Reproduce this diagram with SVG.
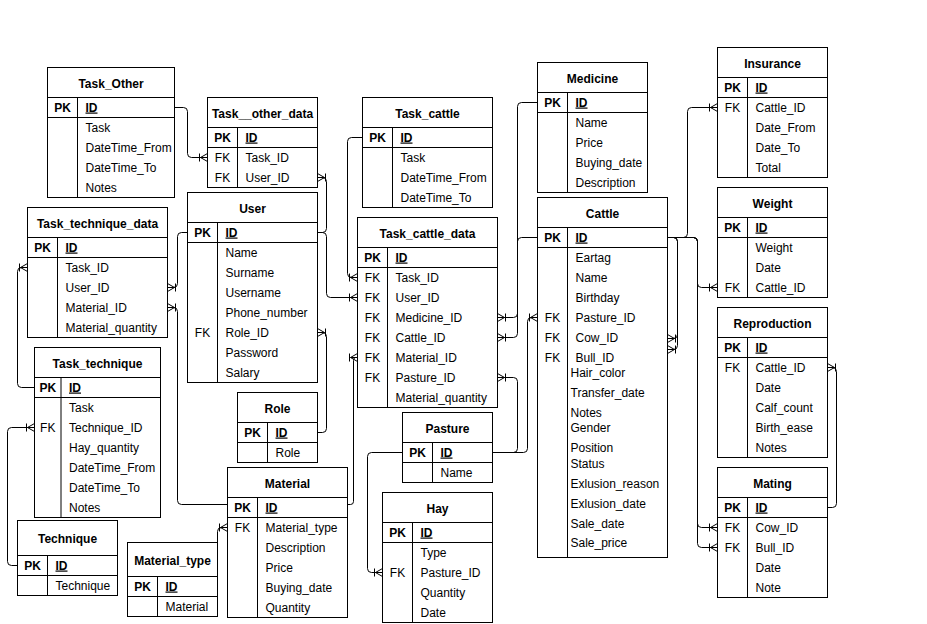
<svg xmlns="http://www.w3.org/2000/svg" width="927" height="624" viewBox="0 0 927 624">
<style>
.b{fill:#fff;stroke:#000;stroke-width:1}
.l{stroke:#000;stroke-width:1;fill:none}
text{font-family:"Liberation Sans",Arial,Helvetica,sans-serif;font-size:12px;fill:#000}
.t{font-weight:bold;text-anchor:middle}
.k{text-anchor:middle}
.kb{text-anchor:middle;font-weight:bold}
.id{font-weight:bold;text-decoration:underline}
.e{fill:none;stroke:#000;stroke-width:1;marker-end:url(#many)}
</style>
<defs>
<marker id="many" markerUnits="userSpaceOnUse" markerWidth="12" markerHeight="12" refX="10" refY="6" orient="auto" overflow="visible">
<path d="M3,6 L10,2 M3,6 L10,6 M3,6 L10,10 M2,2 L2,10" fill="none" stroke="#000" stroke-width="1"/>
</marker>
</defs>
<rect width="927" height="624" fill="#fff"/>
<g transform="translate(0.5,0.5)">

<g id="Task_Other">
<rect class="b" x="47" y="67" width="127" height="130"/>
<path class="l" d="M47,97H174M47,117H174M77,97V197"/>
<text class="t" x="110.5" y="87">Task_Other</text>
<text class="kb" x="62" y="111">PK</text><text class="id" x="85" y="111">ID</text>
<text x="85" y="131">Task</text>
<text x="85" y="151">DateTime_From</text>
<text x="85" y="171">DateTime_To</text>
<text x="85" y="191">Notes</text>
</g>

<g id="Task__other_data">
<rect class="b" x="207" y="97" width="110" height="90"/>
<path class="l" d="M207,127H317M207,147H317M237,127V187"/>
<text class="t" x="262" y="117">Task__other_data</text>
<text class="kb" x="222" y="141">PK</text><text class="id" x="245" y="141">ID</text>
<text class="k" x="222" y="161">FK</text><text x="245" y="161">Task_ID</text>
<text class="k" x="222" y="181">FK</text><text x="245" y="181">User_ID</text>
</g>

<g id="User">
<rect class="b" x="187" y="192" width="130" height="190"/>
<path class="l" d="M187,222H317M187,242H317M217,222V382"/>
<text class="t" x="252" y="212">User</text>
<text class="kb" x="202" y="236">PK</text><text class="id" x="225" y="236">ID</text>
<text x="225" y="256">Name</text>
<text x="225" y="276">Surname</text>
<text x="225" y="296">Username</text>
<text x="225" y="316">Phone_number</text>
<text class="k" x="202" y="336">FK</text><text x="225" y="336">Role_ID</text>
<text x="225" y="356">Password</text>
<text x="225" y="376">Salary</text>
</g>

<g id="Task_technique_data">
<rect class="b" x="27" y="207" width="140" height="130"/>
<path class="l" d="M27,237H167M27,257H167M57,237V337"/>
<text class="t" x="97" y="227">Task_technique_data</text>
<text class="kb" x="42" y="251">PK</text><text class="id" x="65" y="251">ID</text>
<text x="65" y="271">Task_ID</text>
<text x="65" y="291">User_ID</text>
<text x="65" y="311">Material_ID</text>
<text x="65" y="331">Material_quantity</text>
</g>

<g id="Task_technique">
<rect class="b" x="34" y="347" width="126" height="170"/>
<path class="l" d="M34,377H160M34,397H160M60.5,377V517"/>
<text class="t" x="97" y="367">Task_technique</text>
<text class="kb" x="47.25" y="391">PK</text><text class="id" x="68.5" y="391">ID</text>
<text x="68.5" y="411">Task</text>
<text class="k" x="47.25" y="431">FK</text><text x="68.5" y="431">Technique_ID</text>
<text x="68.5" y="451">Hay_quantity</text>
<text x="68.5" y="471">DateTime_From</text>
<text x="68.5" y="491">DateTime_To</text>
<text x="68.5" y="511">Notes</text>
</g>

<g id="Technique">
<rect class="b" x="17" y="520" width="100" height="75"/>
<path class="l" d="M17,555H117M17,575H117M47,555V595"/>
<text class="t" x="67" y="542.5">Technique</text>
<text class="kb" x="32" y="569">PK</text><text class="id" x="55" y="569">ID</text>
<text x="55" y="589">Technique</text>
</g>

<g id="Material_type">
<rect class="b" x="127" y="542" width="90" height="74"/>
<path class="l" d="M127,576H217M127,596H217M157,576V616"/>
<text class="t" x="172" y="564">Material_type</text>
<text class="kb" x="142" y="590">PK</text><text class="id" x="165" y="590">ID</text>
<text x="165" y="610">Material</text>
</g>

<g id="Material">
<rect class="b" x="227" y="467" width="120" height="150"/>
<path class="l" d="M227,497H347M227,517H347M257,497V617"/>
<text class="t" x="287" y="487">Material</text>
<text class="kb" x="242" y="511">PK</text><text class="id" x="265" y="511">ID</text>
<text class="k" x="242" y="531">FK</text><text x="265" y="531">Material_type</text>
<text x="265" y="551">Description</text>
<text x="265" y="571">Price</text>
<text x="265" y="591">Buying_date</text>
<text x="265" y="611">Quantity</text>
</g>

<g id="Role">
<rect class="b" x="237" y="392" width="80" height="70"/>
<path class="l" d="M237,422H317M237,442H317M267,422V462"/>
<text class="t" x="277" y="412">Role</text>
<text class="kb" x="252" y="436">PK</text><text class="id" x="275" y="436">ID</text>
<text x="275" y="456">Role</text>
</g>

<g id="Task_cattle">
<rect class="b" x="362" y="97" width="130" height="110"/>
<path class="l" d="M362,127H492M362,147H492M392,127V207"/>
<text class="t" x="427" y="117">Task_cattle</text>
<text class="kb" x="377" y="141">PK</text><text class="id" x="400" y="141">ID</text>
<text x="400" y="161">Task</text>
<text x="400" y="181">DateTime_From</text>
<text x="400" y="201">DateTime_To</text>
</g>

<g id="Task_cattle_data">
<rect class="b" x="357" y="217" width="140" height="190"/>
<path class="l" d="M357,247H497M357,267H497M387,247V407"/>
<text class="t" x="427" y="237">Task_cattle_data</text>
<text class="kb" x="372" y="261">PK</text><text class="id" x="395" y="261">ID</text>
<text class="k" x="372" y="281">FK</text><text x="395" y="281">Task_ID</text>
<text class="k" x="372" y="301">FK</text><text x="395" y="301">User_ID</text>
<text class="k" x="372" y="321">FK</text><text x="395" y="321">Medicine_ID</text>
<text class="k" x="372" y="341">FK</text><text x="395" y="341">Cattle_ID</text>
<text class="k" x="372" y="361">FK</text><text x="395" y="361">Material_ID</text>
<text class="k" x="372" y="381">FK</text><text x="395" y="381">Pasture_ID</text>
<text x="395" y="401">Material_quantity</text>
</g>

<g id="Pasture">
<rect class="b" x="402" y="412" width="90" height="70"/>
<path class="l" d="M402,442H492M402,462H492M432,442V482"/>
<text class="t" x="447" y="432">Pasture</text>
<text class="kb" x="417" y="456">PK</text><text class="id" x="440" y="456">ID</text>
<text x="440" y="476">Name</text>
</g>

<g id="Hay">
<rect class="b" x="382" y="492" width="110" height="130"/>
<path class="l" d="M382,522H492M382,542H492M412,522V622"/>
<text class="t" x="437" y="512">Hay</text>
<text class="kb" x="397" y="536">PK</text><text class="id" x="420" y="536">ID</text>
<text x="420" y="556">Type</text>
<text class="k" x="397" y="576">FK</text><text x="420" y="576">Pasture_ID</text>
<text x="420" y="596">Quantity</text>
<text x="420" y="616">Date</text>
</g>

<g id="Medicine">
<rect class="b" x="537" y="62" width="110" height="130"/>
<path class="l" d="M537,92H647M537,112H647M567,92V192"/>
<text class="t" x="592" y="82">Medicine</text>
<text class="kb" x="552" y="106">PK</text><text class="id" x="575" y="106">ID</text>
<text x="575" y="126">Name</text>
<text x="575" y="146">Price</text>
<text x="575" y="166">Buying_date</text>
<text x="575" y="186">Description</text>
</g>

<g id="Cattle">
<rect class="b" x="537" y="197" width="130" height="360"/>
<path class="l" d="M537,227H667M537,247H667M567,227V557"/>
<text class="t" x="602" y="217">Cattle</text>
<text class="kb" x="552" y="241">PK</text><text class="id" x="575" y="241">ID</text>
<text x="575" y="261">Eartag</text>
<text x="575" y="281">Name</text>
<text x="575" y="301">Birthday</text>
<text class="k" x="552" y="321">FK</text><text x="575" y="321">Pasture_ID</text>
<text class="k" x="552" y="341">FK</text><text x="575" y="341">Cow_ID</text>
<text class="k" x="552" y="361">FK</text><text x="575" y="361">Bull_ID</text>
<text x="570" y="376">Hair_color</text>
<text x="570" y="396">Transfer_date</text>
<text x="570" y="416">Notes</text>
<text x="570" y="431">Gender</text>
<text x="570" y="451">Position</text>
<text x="570" y="467">Status</text>
<text x="570" y="487">Exlusion_reason</text>
<text x="570" y="507">Exlusion_date</text>
<text x="570" y="527">Sale_date</text>
<text x="570" y="546">Sale_price</text>
</g>

<g id="Insurance">
<rect class="b" x="717" y="47" width="110" height="130"/>
<path class="l" d="M717,77H827M717,97H827M747,77V177"/>
<text class="t" x="772" y="67">Insurance</text>
<text class="kb" x="732" y="91">PK</text><text class="id" x="755" y="91">ID</text>
<text class="k" x="732" y="111">FK</text><text x="755" y="111">Cattle_ID</text>
<text x="755" y="131">Date_From</text>
<text x="755" y="151">Date_To</text>
<text x="755" y="171">Total</text>
</g>

<g id="Weight">
<rect class="b" x="717" y="187" width="110" height="110"/>
<path class="l" d="M717,217H827M717,237H827M747,217V297"/>
<text class="t" x="772" y="207">Weight</text>
<text class="kb" x="732" y="231">PK</text><text class="id" x="755" y="231">ID</text>
<text x="755" y="251">Weight</text>
<text x="755" y="271">Date</text>
<text class="k" x="732" y="291">FK</text><text x="755" y="291">Cattle_ID</text>
</g>

<g id="Reproduction">
<rect class="b" x="717" y="307" width="110" height="150"/>
<path class="l" d="M717,337H827M717,357H827M747,337V457"/>
<text class="t" x="772" y="327">Reproduction</text>
<text class="kb" x="732" y="351">PK</text><text class="id" x="755" y="351">ID</text>
<text class="k" x="732" y="371">FK</text><text x="755" y="371">Cattle_ID</text>
<text x="755" y="391">Date</text>
<text x="755" y="411">Calf_count</text>
<text x="755" y="431">Birth_ease</text>
<text x="755" y="451">Notes</text>
</g>

<g id="Mating">
<rect class="b" x="717" y="467" width="110" height="130"/>
<path class="l" d="M717,497H827M717,517H827M747,497V597"/>
<text class="t" x="772" y="487">Mating</text>
<text class="kb" x="732" y="511">PK</text><text class="id" x="755" y="511">ID</text>
<text class="k" x="732" y="531">FK</text><text x="755" y="531">Cow_ID</text>
<text class="k" x="732" y="551">FK</text><text x="755" y="551">Bull_ID</text>
<text x="755" y="571">Date</text>
<text x="755" y="591">Note</text>
</g>

<g id="connectors">
<path class="e" d="M174,107H183Q187,107 187,111V153Q187,157 191,157H207"/>
<path class="e" d="M317,232H322Q326,232 326,228V181Q326,177 322,177H317"/>
<path class="e" d="M317,232H322Q326,232 326,236V293Q326,297 330,297H357"/>
<path class="e" d="M362,137H351Q347,137 347,141V273Q347,277 351,277H357"/>
<path class="e" d="M227,504H181Q177,504 177,500V311Q177,307 173,307H167"/>
<path class="e" d="M187,232H181Q177,232 177,236V283Q177,287 173,287H167"/>
<path class="e" d="M34,387H21Q17,387 17,383V271Q17,267 21,267H27"/>
<path class="e" d="M17,565H11Q7,565 7,561V431Q7,427 11,427H34"/>
<path class="e" d="M217,542V531Q217,527 221,527H227"/>
<path class="e" d="M317,432H322Q326,432 326,428V336Q326,332 322,332H317"/>
<path class="e" d="M347,504H350Q353,504 353,501V360Q353,357 355,357H357"/>
<path class="e" d="M537,102H521Q517,102 517,106V313Q517,317 513,317H497"/>
<path class="e" d="M537,237H521Q517,237 517,241V333Q517,337 513,337H497"/>
<path class="e" d="M492,452H513Q517,452 517,448V381Q517,377 513,377H497"/>
<path class="e" d="M492,452H523Q527,452 527,448V321Q527,317 531,317H537"/>
<path class="e" d="M402,452H371Q367,452 367,456V568Q367,572 371,572H382"/>
<path class="e" d="M667,237H683Q687,237 687,233V111Q687,107 691,107H717"/>
<path class="e" d="M667,237H693Q697,237 697,241V283Q697,287 701,287H717"/>
<path class="e" d="M667,237H693Q697,237 697,241V523Q697,527 701,527H717"/>
<path class="e" d="M667,237H693Q697,237 697,241V543Q697,547 701,547H717"/>
<path class="e" d="M667,237H673Q677,237 677,241V334Q677,338 673,338H667"/>
<path class="e" d="M667,237H673Q677,237 677,241V345Q677,349 673,349H667"/>
<path class="e" d="M827,507H832Q836,507 836,503V371Q836,367 832,367H827"/>
</g>
</g>
</svg>
